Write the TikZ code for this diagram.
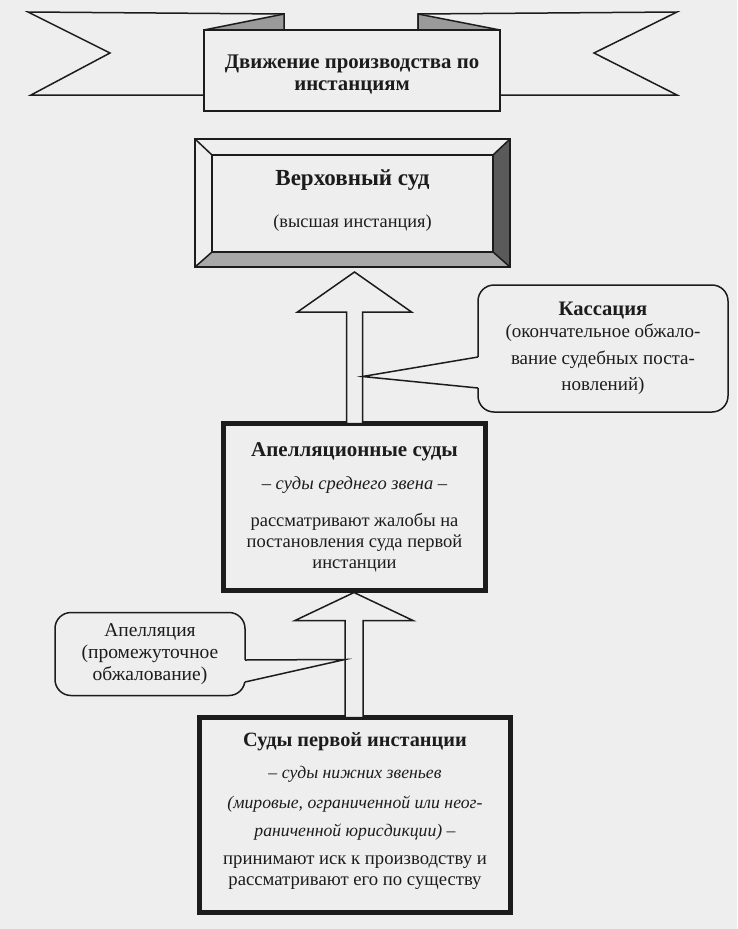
\documentclass[tikz,border=0pt]{standalone}
\usepackage{fontspec}
\setmainfont{Liberation Serif}
\usetikzlibrary{calc}
\definecolor{bg}{HTML}{EEEEEE}
\definecolor{ink}{HTML}{1C1C1C}
\definecolor{fold}{HTML}{9A9A9A}
\definecolor{bevdark}{HTML}{5A5A5A}
\definecolor{bevmid}{HTML}{A8A8A8}
\tikzset{
  thinln/.style={draw=ink, line width=1.5pt, line join=miter},
  thickbox/.style={draw=ink, line width=5pt, fill=bg, outer sep=0pt, inner sep=0pt, align=center, text=ink},
  callbox/.style={draw=ink, line width=1.5pt, rounded corners=16pt, fill=bg, outer sep=0pt, inner sep=0pt, align=center, text=ink},
  blockarrow/.style={draw=ink, line width=1.5pt, fill=bg, line join=miter},
  txt/.style={align=center, text=ink, inner sep=0pt}
}
\begin{document}
\begin{tikzpicture}[x=1pt,y=-1pt]
\useasboundingbox[fill=bg] (0,0) rectangle (737,929);

% ---------- banner ----------
\filldraw[thinln, fill=bg] (28,12) -- (284,14) -- (284,30) -- (204,30) -- (204,95) -- (31,95) -- (110,53) -- cycle;
\filldraw[thinln, fill=fold] (284,14) -- (284,30) -- (204,30) -- cycle;
\filldraw[thinln, fill=bg] (677,12) -- (418,14) -- (418,30) -- (500,30) -- (500,95) -- (677,95) -- (594,53) -- cycle;
\filldraw[thinln, fill=fold] (418,14) -- (418,30) -- (500,30) -- cycle;
\node[thinln, fill=bg, minimum width=296pt, minimum height=81pt, outer sep=0pt, inner sep=0pt] (banner) at (352,70.5) {};
\node[txt, font=\fontsize{20.8}{22.5}\selectfont\bfseries] (bannertext) at ($(banner.center)+(0,4)$)
      {Движение производства по\\инстанциям};

% ---------- supreme court ----------
\node[minimum width=315pt, minimum height=128pt, outer sep=0pt, inner sep=0pt] (sup) at (352.5,203) {};
\coordinate (supi-nw) at ($(sup.north west)+(17,16)$);
\coordinate (supi-ne) at ($(sup.north east)+(-17,16)$);
\coordinate (supi-se) at ($(sup.south east)+(-17,-15)$);
\coordinate (supi-sw) at ($(sup.south west)+(17,-15)$);
\fill[bevdark] (sup.north east) -- (sup.south east) -- (supi-se) -- (supi-ne) -- cycle;
\fill[bevmid] (sup.south west) -- (sup.south east) -- (supi-se) -- (supi-sw) -- cycle;
\draw[thinln] (sup.north west) rectangle (sup.south east);
\draw[thinln] (supi-nw) -- (supi-ne) -- (supi-se) -- (supi-sw) -- cycle;
\draw[thinln] (sup.north west) -- (supi-nw);
\draw[thinln] (sup.north east) -- (supi-ne);
\draw[thinln] (sup.south east) -- (supi-se);
\draw[thinln] (sup.south west) -- (supi-sw);
\node[txt, font=\fontsize{18.3}{22}\selectfont] (suptext) at ($(supi-nw)!0.5!(supi-se)+(0,-3)$)
  {{\fontsize{23}{26}\selectfont\bfseries Верховный суд}\\[20pt](высшая инстанция)};

% ---------- appellate courts ----------
\node[thickbox, minimum width=262pt, minimum height=167pt, font=\fontsize{18.5}{21}\selectfont] (app) at (354.5,507)
  {{\fontsize{21}{23}\selectfont\bfseries Апелляционные суды}\\[12pt]
   {\itshape – суды среднего звена –}\\[16pt]
   рассматривают жалобы на\\
   постановления суда первой\\
   инстанции};

% ---------- first instance ----------
\node[thickbox, minimum width=311pt, minimum height=195pt] (first) at (355,815) {};
\node[txt, font=\fontsize{18.7}{21}\selectfont] (firsttext) at ($(first.center)+(0,-4)$)
  {{\fontsize{20.3}{23}\selectfont\bfseries Суды первой инстанции}\\[11pt]
   {\fontsize{17.7}{21}\selectfont\itshape – суды нижних звеньев}\\[9pt]
   {\fontsize{17.7}{21}\selectfont\itshape (мировые, ограниченной или неог-}\\[7pt]
   {\fontsize{17.7}{21}\selectfont\itshape раниченной юрисдикции) –}\\[7pt]
   принимают иск к производству и\\
   рассматривают его по существу};

% ---------- block arrows ----------
\coordinate (a1t) at ($(app.north |- sup.south)+(0,5)$);
\coordinate (a1b) at ($(app.north)+(0,0)$);
\draw[blockarrow] (a1t) -- ($(a1t)+(57,40)$) -- ($(a1t)+(8,40)$) -- ($(a1b)+(8,0)$)
  -- ($(a1b)+(-8,0)$) -- ($(a1t)+(-8,40)$) -- ($(a1t)+(-57,40)$) -- cycle;
\coordinate (a2t) at ($(first.north |- app.south)+(-1,2)$);
\coordinate (a2b) at ($(first.north)+(-1,0)$);
\draw[blockarrow] (a2t) -- ($(a2t)+(59,28)$) -- ($(a2t)+(9,28)$) -- ($(a2b)+(9,0)$)
  -- ($(a2b)+(-9,0)$) -- ($(a2t)+(-9,28)$) -- ($(a2t)+(-59,28)$) -- cycle;

% ---------- cassation callout ----------
\node[callbox, minimum width=250pt, minimum height=127pt, font=\fontsize{19}{26.5}\selectfont] (kas) at (603,348.5)
  {{\fontsize{20.6}{22}\selectfont\bfseries Кассация}\\[-4pt]
   (окончательное обжало-\\
   вание судебных поста-\\
   новлений)};
\coordinate (kt) at ($(a1b)+(8,-47)$);
\fill[bg] ($(kas.west)+(1.5,8.5)$) -- (kt) -- ($(kas.west)+(1.5,39.5)$) -- cycle;
\draw[thinln] ($(kas.west)+(0,8.5)$) -- (kt) -- ($(kas.west)+(0,39.5)$);

% ---------- appeal callout ----------
\node[callbox, minimum width=190pt, minimum height=83pt, font=\fontsize{19.5}{22}\selectfont] (apl) at (150,654)
  {Апелляция\\
   (промежуточное\\
   обжалование)};
\coordinate (at2) at ($(a2b)+(-9,-58)$);
\fill[bg] ($(apl.east)+(-1.5,6)$) -- (at2) -- ($(apl.east)+(-1.5,28)$) -- cycle;
\draw[thinln] ($(apl.east)+(0,6)$) -- (at2) -- ($(apl.east)+(0,28)$);
\end{tikzpicture}
\end{document}
